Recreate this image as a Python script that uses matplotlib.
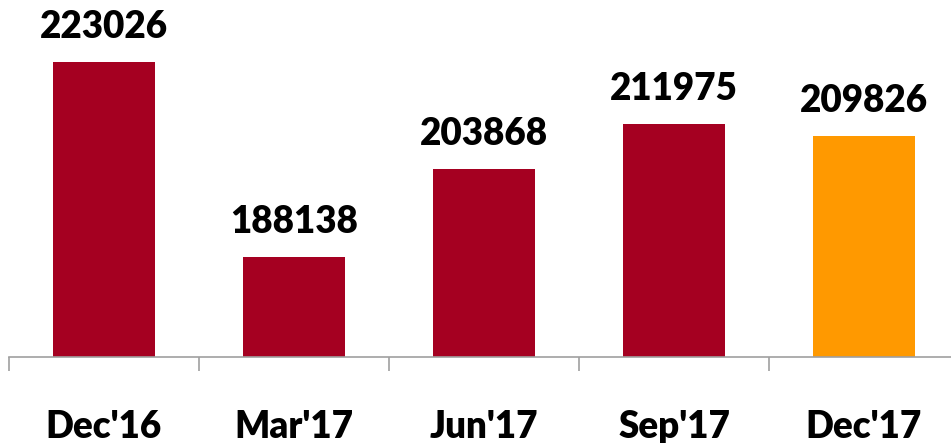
import numpy as np
import matplotlib.pyplot as plt

plt.rcParams['font.family'] = ['Lato', 'DejaVu Sans']

quarters = ["Dec'16", "Mar'17", "Jun'17", "Sep'17", "Dec'17"]
values = [223026, 188138, 203868, 211975, 209826]
colors = ['#A50021', '#A50021', '#A50021', '#A50021', '#FF9900']

fig = plt.figure(figsize=(9.51, 4.43), dpi=100)
ax = fig.add_axes([9/951, 86/443, 950/951, 357/443])

x = np.arange(len(quarters))
bars = ax.bar(x, values, width=0.54, color=colors)

ax.set_xlim(-0.5, len(quarters) - 0.5)
ax.set_ylim(170250, 234120)

for b, v in zip(bars, values):
    ax.annotate(str(v), (b.get_x() + b.get_width() / 2, v), xytext=(0, 13),
                textcoords='offset points', ha='center', va='bottom',
                fontsize=26.5, fontweight='heavy', color='black')

ax.set_xticks(x)
ax.set_xticklabels(quarters, fontsize=26.5, fontweight='heavy')
ax.tick_params(axis='x', which='major', length=0, pad=38)
ax.set_xticks(np.arange(-0.5, len(quarters) - 0.5), minor=True)
ax.tick_params(axis='x', which='minor', length=10, width=1.2, color='#A0A0A0')

ax.set_yticks([])
for s in ['top', 'right', 'left']:
    ax.spines[s].set_visible(False)
ax.spines['bottom'].set_color('#A0A0A0')
ax.spines['bottom'].set_linewidth(1.2)

fig.savefig('out.png', dpi=100)
